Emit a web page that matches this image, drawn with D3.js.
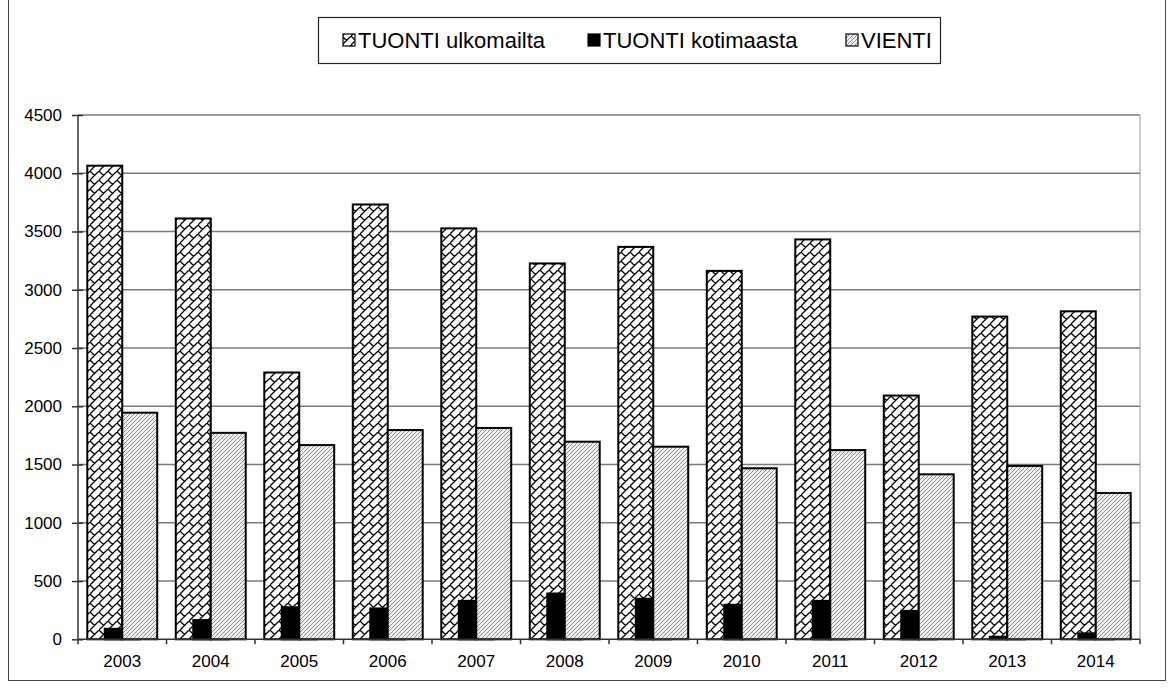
<!DOCTYPE html>
<html>
<head>
<meta charset="utf-8">
<script src="https://cdn.jsdelivr.net/npm/d3@7"></script>
<style>
  html, body { margin: 0; padding: 0; background: #fff; }
  svg { display: block; }
  text { font-family: "Liberation Sans", Arial, sans-serif; fill: #000; }
</style>
</head>
<body>
<svg id="chart" width="1174" height="691"></svg>
<script>
const years = ["2003","2004","2005","2006","2007","2008","2009","2010","2011","2012","2013","2014"];
const tuontiUlkomailta = [4065, 3612, 2290, 3732, 3527, 3226, 3368, 3162, 3432, 2092, 2770, 2815];
const tuontiKotimaasta = [90, 165, 275, 265, 330, 393, 348, 296, 330, 244, 22, 51];
const vienti = [1945, 1772, 1667, 1796, 1814, 1696, 1653, 1468, 1624, 1416, 1488, 1256];
const yTicks = [0, 500, 1000, 1500, 2000, 2500, 3000, 3500, 4000, 4500];
const seriesNames = ["TUONTI ulkomailta", "TUONTI kotimaasta", "VIENTI"];

const svg = d3.select("#chart");

// outer frame
svg.append("rect").attr("x", 8.5).attr("y", -1).attr("width", 1157).attr("height", 681.5)
  .attr("fill", "none").attr("stroke", "#444").attr("stroke-width", 1);

const defs = svg.append("defs");
// diagonal brick
const T = 9;
const brick = defs.append("pattern").attr("id", "brick").attr("patternUnits", "userSpaceOnUse")
  .attr("width", T).attr("height", T);
brick.append("rect").attr("width", T).attr("height", T).attr("fill", "#fff");
brick.append("path").attr("d", `M-1,${T+1}L${T+1},-1M0,0L${T/2},${T/2}M${T-1},-1L${T+1},1M-1,${T-1}L1,${T+1}`)
  .attr("stroke", "#000").attr("stroke-width", 1.3).attr("fill", "none");
// light upward diagonal
const hatch = defs.append("pattern").attr("id", "hatch").attr("patternUnits", "userSpaceOnUse")
  .attr("width", 4).attr("height", 4);
hatch.append("rect").attr("width", 4).attr("height", 4).attr("fill", "#eeeeee");
hatch.append("path").attr("d", "M-1,5L5,-1M-1,1L1,-1M3,5L5,3")
  .attr("stroke", "#888").attr("stroke-width", 0.9).attr("fill", "none");

const pLeft = 78, pRight = 1140, pTop = 115, pBottom = 639.3;
const x = d3.scaleBand().domain(years).range([pLeft, pRight]).paddingInner(0).paddingOuter(0);
const y = d3.scaleLinear().domain([0, 4500]).range([pBottom, pTop]);

const bw = x.bandwidth();
const w = bw * 0.395;
const off = (bw - 2 * w) / 2;

// gridlines
svg.append("g").selectAll("line").data(yTicks.filter(d => d > 0)).join("line")
  .attr("x1", pLeft).attr("x2", pRight)
  .attr("y1", d => y(d)).attr("y2", d => y(d))
  .attr("stroke", "#7a7a7a").attr("stroke-width", 1.6);
// right border of plot
svg.append("line").attr("x1", pRight).attr("x2", pRight).attr("y1", pTop).attr("y2", pBottom)
  .attr("stroke", "#9a9a9a").attr("stroke-width", 1);

// bars
const fills = ["url(#brick)", "#000", "url(#hatch)"];
const seriesData = [tuontiUlkomailta, tuontiKotimaasta, vienti];
seriesData.forEach((vals, si) => {
  svg.append("g").selectAll("rect").data(years).join("rect")
    .attr("x", d => x(d) + off + si * w / 2)
    .attr("y", (d, i) => y(vals[i]))
    .attr("width", w)
    .attr("height", (d, i) => y(0) - y(vals[i]))
    .attr("fill", fills[si])
    .attr("stroke", "#000").attr("stroke-width", 2);
});

// y axis
const yAxis = d3.axisLeft(y).tickValues(yTicks).tickFormat(d3.format("d")).tickSize(6).tickPadding(10);
const yg = svg.append("g").attr("transform", `translate(${pLeft},0)`).call(yAxis);
yg.select(".domain").attr("stroke", "#333").attr("stroke-width", 1.5).attr("d", `M0,${pTop}V${pBottom}`);
yg.selectAll(".tick line").attr("stroke", "#333").attr("stroke-width", 1.5).attr("x1", 5);
yg.selectAll(".tick text").attr("font-size", 17).attr("font-family", "Liberation Sans, Arial, sans-serif").attr("fill", "#000");

// x axis
const xAxis = d3.axisBottom(x).tickSize(0).tickPadding(16);
const xg = svg.append("g").attr("transform", `translate(0,${pBottom})`).call(xAxis);
xg.select(".domain").attr("stroke", "#333").attr("stroke-width", 1.5).attr("d", `M${pLeft},0H${pRight}`);
xg.selectAll(".tick text").attr("font-size", 17).attr("font-family", "Liberation Sans, Arial, sans-serif").attr("fill", "#000");
// boundary ticks
const boundaries = [x(years[0])].concat(years.map(d => x(d) + bw));
svg.append("g").selectAll("line").data(boundaries).join("line")
  .attr("x1", d => d).attr("x2", d => d).attr("y1", pBottom).attr("y2", pBottom + 5)
  .attr("stroke", "#333").attr("stroke-width", 1.5);

// legend
const lg = svg.append("g");
lg.append("rect").attr("x", 318.5).attr("y", 17.5).attr("width", 622).attr("height", 46)
  .attr("fill", "#fff").attr("stroke", "#222").attr("stroke-width", 1.2);
const legX = [343, 588, 846];
seriesNames.forEach((name, i) => {
  lg.append("rect").attr("x", legX[i]).attr("y", 34).attr("width", 12).attr("height", 12)
    .attr("fill", fills[i]).attr("stroke", "#000").attr("stroke-width", 1.2);
  lg.append("text").attr("x", legX[i] + 15).attr("y", 48).attr("font-size", 22).text(name);
});
</script>
</body>
</html>
